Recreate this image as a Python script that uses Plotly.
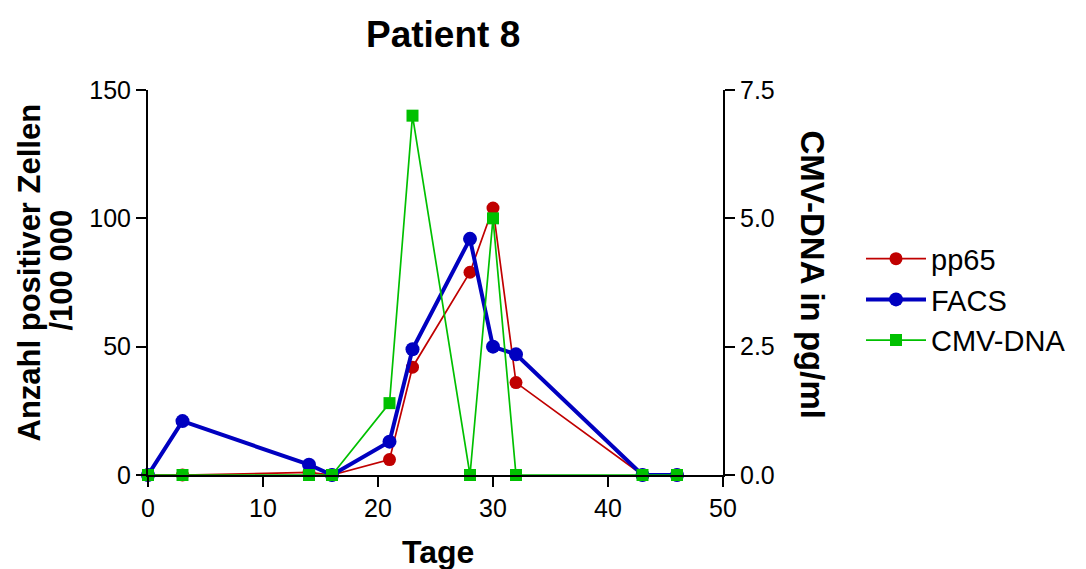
import plotly.graph_objects as go

tage = [0, 3, 14, 16, 21, 23, 28, 30, 32, 43, 46]
pp65 = [0, 0, 1, 0, 6, 42, 79, 104, 36, 0, 0]
facs = [0, 21, 4, 0, 13, 49, 92, 50, 47, 0, 0]
cmv_dna = [0, 0, 0, 0, 1.4, 7.0, 0, 5.0, 0, 0, 0]

FONT = "Liberation Sans, Arial, sans-serif"

fig = go.Figure()
fig.add_trace(go.Scatter(x=tage, y=cmv_dna, name="CMV-DNA", yaxis="y2", mode="lines+markers",
                         line=dict(color="#00C000", width=1.7),
                         marker=dict(symbol="square", size=12, color="#00C000"),
                         legendrank=3, cliponaxis=False))
fig.add_trace(go.Scatter(x=tage, y=pp65, name="pp65", mode="lines+markers",
                         line=dict(color="#C00000", width=1.7),
                         marker=dict(symbol="circle", size=13, color="#C00000"),
                         legendrank=1, cliponaxis=False))
fig.add_trace(go.Scatter(x=tage, y=facs, name="FACS", mode="lines+markers",
                         line=dict(color="#0000C0", width=4),
                         marker=dict(symbol="circle", size=14, color="#0000C0"),
                         legendrank=2, cliponaxis=False))

axis_common = dict(showgrid=False, zeroline=False, showline=True, linecolor="black", linewidth=2,
                   ticks="outside", tickcolor="black", tickwidth=2, ticklen=10,
                   tickfont=dict(family=FONT, size=25, color="black"))

ann_common = dict(xref="paper", yref="paper", xanchor="center", yanchor="middle", showarrow=False)

fig.update_layout(
    width=1078, height=561,
    margin=dict(l=140, r=363, t=82, b=94),
    paper_bgcolor="white", plot_bgcolor="white",
    font=dict(family=FONT, color="black"),
    xaxis=dict(range=[0, 50], tickvals=[0, 10, 20, 30, 40, 50], **axis_common),
    yaxis=dict(range=[0, 150], tickvals=[0, 50, 100, 150], **axis_common),
    yaxis2=dict(range=[0, 7.5], tickvals=[0, 2.5, 5.0, 7.5], tickformat=".1f",
                overlaying="y", side="right", **axis_common),
    showlegend=True,
    legend=dict(x=1.24, y=0.455, xanchor="left", yanchor="middle",
                font=dict(family=FONT, size=29, color="black"),
                bgcolor="rgba(0,0,0,0)", tracegroupgap=0, itemwidth=60),
    annotations=[
        dict(text="<b>Patient 8</b>", x=0.5, y=1.0, xshift=7, yshift=56,
             font=dict(family=FONT, size=37, color="black"), **ann_common),
        dict(text="<b>Tage</b>", x=0.5, y=0, xshift=2, yshift=-77,
             font=dict(family=FONT, size=32, color="black"), **ann_common),
        dict(text="<b>Anzahl positiver Zellen</b>", x=0, y=0.5,
             xshift=-119, yshift=10, textangle=-90,
             font=dict(family=FONT, size=31, color="black"), **ann_common),
        dict(text="<b>/100 000</b>", x=0, y=0.5,
             xshift=-87, yshift=12, textangle=-90,
             font=dict(family=FONT, size=31, color="black"), **ann_common),
        dict(text="<b>CMV-DNA in pg/ml</b>", x=1, y=0.5, xshift=89, yshift=8, textangle=90,
             font=dict(family=FONT, size=33, color="black"), **ann_common),
    ],
)

fig.write_html("out.html")
